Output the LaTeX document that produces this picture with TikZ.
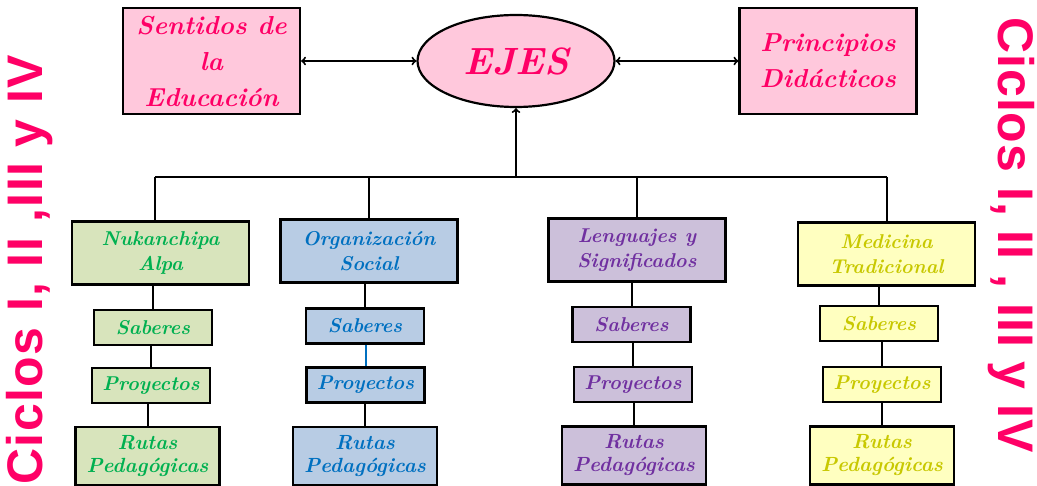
\documentclass[tikz,border=0pt]{standalone}
\usepackage{fontspec}
\usepackage{tikz}
\usetikzlibrary{positioning,shapes.geometric}
\newfontfamily\ciclosfont{Liberation Sans}[LetterSpace=2]
\newfontfamily\ciclosfontb{Liberation Sans}[LetterSpace=3]
\definecolor{rosa}{HTML}{FFC8DC}
\definecolor{fucsia}{HTML}{FF0066}
\definecolor{verdeF}{HTML}{D8E4BC}
\definecolor{verdeT}{HTML}{00B050}
\definecolor{azulF}{HTML}{B8CCE4}
\definecolor{azulT}{HTML}{0070C0}
\definecolor{moradoF}{HTML}{CCC0DA}
\definecolor{moradoT}{HTML}{7030A0}
\definecolor{amarilloF}{HTML}{FFFFC0}
\definecolor{amarilloT}{HTML}{C8C800}

\begin{document}
\begin{tikzpicture}[x=1pt,y=-1pt,
  caja/.style={draw=black, line width=2.2pt, align=center, inner sep=0pt},
  arriba/.style={caja, fill=rosa, text=fucsia, minimum width=177pt, minimum height=106pt,
    font=\fontsize{26}{36}\selectfont\bfseries\itshape},
  tema/.style={caja, minimum width=177pt, minimum height=63pt,
    font=\fontsize{20}{25}\selectfont\bfseries\itshape},
  item/.style={caja, minimum width=118pt, minimum height=35pt,
    font=\fontsize{20}{25}\selectfont\bfseries\itshape},
  ruta/.style={caja, minimum width=144pt, minimum height=58pt,
    font=\fontsize{20.5}{23}\selectfont\bfseries\itshape},
  verde/.style={fill=verdeF, text=verdeT},
  azul/.style={fill=azulF, text=azulT},
  morado/.style={fill=moradoF, text=moradoT},
  amarillo/.style={fill=amarilloF, text=amarilloT},
  linea/.style={black, line width=2pt},
  ciclos/.style={text=fucsia, inner sep=0pt, font=\fontsize{50}{50}\selectfont\ciclosfont\bfseries}]
\useasboundingbox (0,0) rectangle (1037,486);

\node[arriba] (sentidos) at (211.5,61) {Sentidos de\\la\\Educación};
\node[ellipse, draw=black, line width=2.2pt, fill=rosa, text=fucsia, minimum width=197pt,
  minimum height=92pt, inner sep=0pt, font=\fontsize{38}{40}\selectfont\bfseries\itshape]
  (ejes) at (516,61) {EJES};
\node[arriba] (principios) at (828,61) {Principios\\Didácticos};
\coordinate (bus) at (516,177);

\node[tema, verde] (hdr1) at (160.5,253) {Nukanchipa\\Alpa};
\node[item, verde] (sab1) at (153,327.5) {Saberes};
\node[item, verde] (pro1) at (151,385.5) {Proyectos};
\node[ruta, verde] (rut1) at (147.5,456) {Rutas\\Pedagógicas};

\node[tema, azul] (hdr2) at (369,251) {Organización\\Social};
\node[item, azul] (sab2) at (365,326) {Saberes};
\node[item, azul] (pro2) at (365.5,385) {Proyectos};
\node[ruta, azul] (rut2) at (365,456) {Rutas\\Pedagógicas};

\node[tema, morado] (hdr3) at (637,250) {Lenguajes y\\Significados};
\node[item, morado] (sab3) at (631.5,324.5) {Saberes};
\node[item, morado] (pro3) at (633,384.5) {Proyectos};
\node[ruta, morado] (rut3) at (634,455.5) {Rutas\\Pedagógicas};

\node[tema, amarillo] (hdr4) at (886.5,254) {Medicina\\Tradicional};
\node[item, amarillo] (sab4) at (879,323.5) {Saberes};
\node[item, amarillo] (pro4) at (882,384.5) {Proyectos};
\node[ruta, amarillo] (rut4) at (882,455.5) {Rutas\\Pedagógicas};

\node[ciclos, rotate=90, font=\fontsize{50}{50}\selectfont\ciclosfontb\bfseries] (izq) at (30,270) {Ciclos I, II ,III y IV};
\node[ciclos, rotate=-90] (der) at (1011,235) {Ciclos I, II , III y IV};

\draw[linea,<->] (sentidos) -- (ejes);
\draw[linea,<->] (ejes) -- (principios);
\draw[linea,->] (bus) -- (ejes);
\draw[linea] (155,177) -- (hdr4.north |- bus);
\draw[linea] (155,177) -- (hdr1.north -| 155,0);
\draw[linea] (hdr2.north |- bus) -- (hdr2.north);
\draw[linea] (hdr3.north |- bus) -- (hdr3.north);
\draw[linea] (hdr4.north |- bus) -- (hdr4.north);

\draw[linea] (sab1.north |- hdr1.south) -- (sab1.north);
\draw[linea] (pro1.north |- sab1.south) -- (pro1.north);
\draw[linea] (rut1.north |- pro1.south) -- (rut1.north);
\draw[linea] (sab2.north |- hdr2.south) -- (sab2.north);
\draw[linea, azulT] (pro2.north |- sab2.south) -- (pro2.north);
\draw[linea] (rut2.north |- pro2.south) -- (rut2.north);
\draw[linea] (sab3.north |- hdr3.south) -- (sab3.north);
\draw[linea] (pro3.north |- sab3.south) -- (pro3.north);
\draw[linea] (rut3.north |- pro3.south) -- (rut3.north);
\draw[linea] (sab4.north |- hdr4.south) -- (sab4.north);
\draw[linea] (pro4.north |- sab4.south) -- (pro4.north);
\draw[linea] (rut4.north |- pro4.south) -- (rut4.north);
\end{tikzpicture}
\end{document}
